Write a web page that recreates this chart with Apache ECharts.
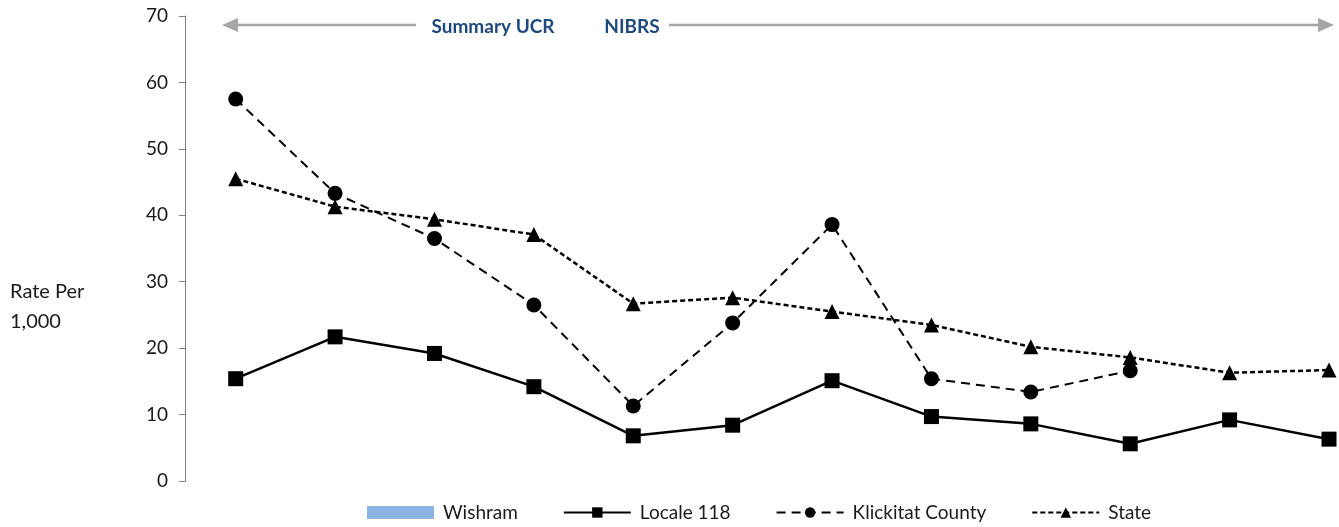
<!DOCTYPE html>
<html>
<head>
<meta charset="utf-8">
<title>Rate Per 1,000</title>
<script src="https://cdn.jsdelivr.net/npm/echarts@6/dist/echarts.min.js"></script>
<style>
  html, body { margin: 0; padding: 0; background: #fff; }
  #chart { width: 1339px; height: 527px; }
</style>
</head>
<body>
<div id="chart"></div>
<script>
// Reporting periods along the horizontal axis (labels are not shown)
const periods = ['1', '2', '3', '4', '5', '6', '7', '8', '9', '10', '11', '12'];

// Rates per 1,000
const wishram = [];
const locale118 = [15.4, 21.7, 19.2, 14.2, 6.8, 8.4, 15.1, 9.7, 8.6, 5.6, 9.2, 6.3];
const klickitat = [57.5, 43.3, 36.5, 26.5, 11.3, 23.8, 38.6, 15.4, 13.4, 16.6, null, null];
const state = [45.5, 41.3, 39.4, 37.1, 26.7, 27.6, 25.5, 23.5, 20.2, 18.6, 16.3, 16.7];

const yTicks = { min: 0, max: 70, interval: 10 };

const FONT = 'Lato, "Open Sans", sans-serif';
const ARROW = '#a6a6a6';
const NAVY = '#1f497d';
const WISHRAM_BLUE = '#8db3e2';

// each period sits at its index on a numeric x scale
const byPeriod = values => periods.map((p, i) => [i, values[i]]);

const chart = echarts.init(document.getElementById('chart'), null, { renderer: 'canvas' });

chart.setOption({
  animation: false,
  backgroundColor: '#ffffff',
  grid: { left: 185, right: 10, top: 16, bottom: 46, containLabel: false },
  xAxis: {
    type: 'value',
    min: -0.51,
    max: periods.length - 1,
    show: false,
    axisLine: { show: false },
    splitLine: { show: false }
  },
  yAxis: {
    type: 'value',
    position: 'left',
    min: yTicks.min,
    max: yTicks.max,
    interval: yTicks.interval,
    axisLine: { show: true, onZero: false, lineStyle: { color: '#7f7f7f', width: 1 } },
    axisTick: { show: true, inside: false, length: 6, lineStyle: { color: '#7f7f7f' } },
    axisLabel: { color: '#1a1a1a', fontFamily: FONT, fontSize: 19, margin: 17 },
    splitLine: { show: false }
  },
  legend: {
    top: 498,
    left: 362,
    itemWidth: 67,
    itemHeight: 13,
    itemGap: 45,
    textStyle: { color: '#1a1a1a', fontFamily: FONT, fontSize: 19, padding: [0, 0, 0, 4] },
    data: [
      { name: 'Wishram', icon: 'rect', itemStyle: { color: WISHRAM_BLUE } },
      'Locale 118', 'Klickitat County', 'State'
    ]
  },
  series: [
    {
      // Wishram has no plotted values; it only appears in the legend
      name: 'Wishram',
      type: 'line',
      data: byPeriod(wishram).filter(d => d[1] != null),
      showSymbol: false,
      itemStyle: { color: WISHRAM_BLUE },
      lineStyle: { color: WISHRAM_BLUE }
    },
    {
      name: 'Locale 118',
      type: 'line',
      data: byPeriod(locale118),
      symbol: 'rect',
      symbolSize: 15,
      lineStyle: { color: '#000', width: 2.5, type: 'solid' },
      itemStyle: { color: '#000' },
      z: 3
    },
    {
      name: 'Klickitat County',
      type: 'line',
      data: byPeriod(klickitat),
      symbol: 'circle',
      symbolSize: 15,
      connectNulls: false,
      lineStyle: { color: '#000', width: 2, type: [9, 6] },
      itemStyle: { color: '#000' },
      z: 4
    },
    {
      name: 'State',
      type: 'line',
      data: byPeriod(state),
      symbol: 'triangle',
      symbolSize: 15,
      lineStyle: { color: '#000', width: 2.5, type: [5, 3] },
      itemStyle: { color: '#000' },
      z: 5
    }
  ],
  graphic: [
    // y-axis caption
    {
      type: 'text', left: 10, top: 277,
      style: { text: 'Rate Per\n1,000', fill: '#1a1a1a', font: '20px ' + FONT, lineHeight: 30 }
    },
    // reporting-system banner: arrows with the two system names
    { type: 'line', shape: { x1: 236, y1: 25, x2: 416, y2: 25 }, style: { stroke: ARROW, lineWidth: 2.5 } },
    { type: 'polygon', shape: { points: [[222, 25], [238, 18], [238, 32]] }, style: { fill: ARROW } },
    { type: 'line', shape: { x1: 669, y1: 25, x2: 1320, y2: 25 }, style: { stroke: ARROW, lineWidth: 2.5 } },
    { type: 'polygon', shape: { points: [[1334, 25], [1318, 18], [1318, 32]] }, style: { fill: ARROW } },
    {
      type: 'text', x: 493, y: 27,
      style: { text: 'Summary UCR', fill: NAVY, font: 'bold 19px ' + FONT, align: 'center', verticalAlign: 'middle' }
    },
    {
      type: 'text', x: 632, y: 27,
      style: { text: 'NIBRS', fill: NAVY, font: 'bold 19px ' + FONT, align: 'center', verticalAlign: 'middle' }
    }
  ]
});
</script>
</body>
</html>
